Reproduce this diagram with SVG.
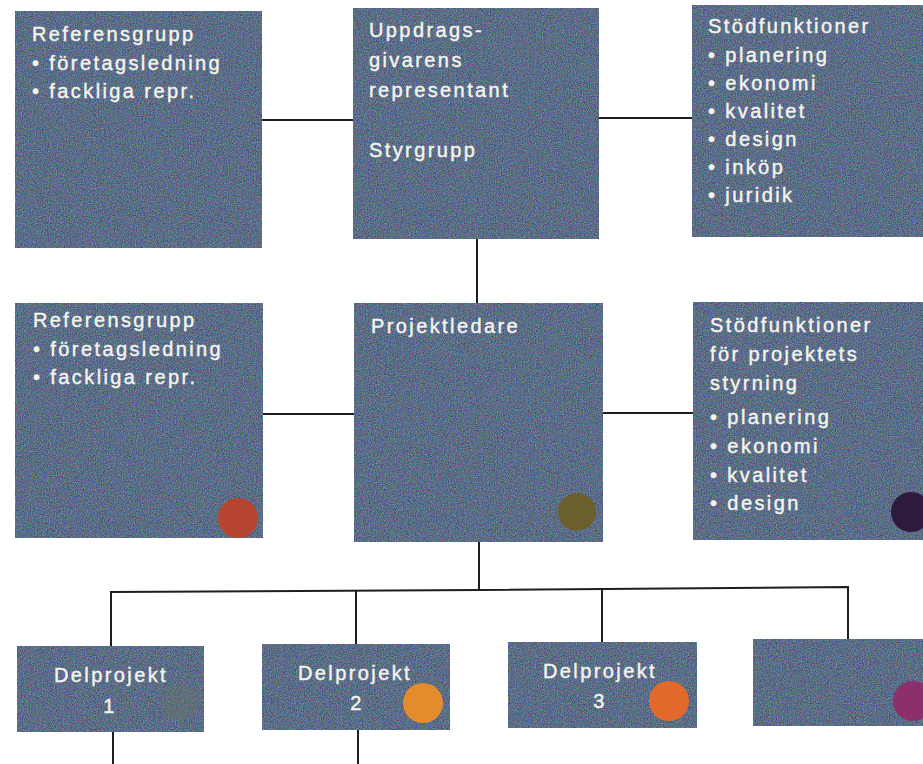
<svg xmlns="http://www.w3.org/2000/svg" width="923" height="764" viewBox="0 0 923 764">
  <defs>
    <style>
      .box { fill: #5b6884; filter: url(#grain); }
      .t { font-family: "Liberation Sans", Arial, sans-serif; font-size: 20px; fill: #f4f4ee; stroke: #f4f4ee; stroke-width: 0.4; letter-spacing: 2.4px; }
      .c { text-anchor: middle; }
      .wire { stroke: #1e1e1e; stroke-width: 2; fill: none; }
    </style>
    <!-- speckled print texture for the boxes -->
    <filter id="grain" x="0" y="0" width="100%" height="100%" color-interpolation-filters="sRGB">
      <feTurbulence type="fractalNoise" baseFrequency="0.85" numOctaves="2" seed="7" result="noise"/>
      <feColorMatrix in="noise" type="matrix" result="tint"
        values="1.6 0 0 0 -0.44
                0 1.6 0 0 -0.34
                0 0 1.6 0 -0.25
                0 0 0 0 0.4"/>
      <feComposite in="tint" in2="SourceGraphic" operator="in" result="speck"/>
      <feMerge>
        <feMergeNode in="SourceGraphic"/>
        <feMergeNode in="speck"/>
      </feMerge>
    </filter>
  </defs>
  <rect width="923" height="764" fill="#ffffff"/>

  <!-- connectors -->
  <g id="connectors" class="wire">
    <line x1="262" y1="120" x2="353" y2="120"/>
    <line x1="599" y1="118" x2="692" y2="118"/>
    <line x1="477" y1="239" x2="477" y2="303"/>
    <line x1="263" y1="414" x2="354" y2="414"/>
    <line x1="603" y1="413" x2="693" y2="413"/>
    <line x1="479" y1="542" x2="479" y2="590"/>
    <polyline points="111,646 111,592 479,590 848,587 848,639"/>
    <line x1="356" y1="591" x2="356" y2="644"/>
    <line x1="602" y1="589" x2="602" y2="642"/>
    <line x1="113" y1="732" x2="113" y2="764"/>
    <line x1="358" y1="730" x2="358" y2="764"/>
  </g>

  <!-- top row -->
  <g id="ref-top">
    <rect class="box" x="15" y="11" width="247" height="237"/>
    <text class="t" x="32" y="41">Referensgrupp</text>
    <text class="t" x="32" y="70">• företagsledning</text>
    <text class="t" x="32" y="98">• fackliga repr.</text>
  </g>
  <g id="styrgrupp">
    <rect class="box" x="353" y="8" width="246" height="231"/>
    <text class="t" x="369" y="37">Uppdrags-</text>
    <text class="t" x="369" y="67">givarens</text>
    <text class="t" x="369" y="97">representant</text>
    <text class="t" x="369" y="157">Styrgrupp</text>
  </g>
  <g id="stod-top">
    <rect class="box" x="692" y="5" width="240" height="232"/>
    <text class="t" x="708" y="33">Stödfunktioner</text>
    <text class="t" x="708" y="62">• planering</text>
    <text class="t" x="708" y="90">• ekonomi</text>
    <text class="t" x="708" y="118">• kvalitet</text>
    <text class="t" x="708" y="146">• design</text>
    <text class="t" x="708" y="174">• inköp</text>
    <text class="t" x="708" y="202">• juridik</text>
  </g>

  <!-- middle row -->
  <g id="ref-mid">
    <rect class="box" x="15" y="303" width="248" height="235"/>
    <text class="t" x="33" y="327">Referensgrupp</text>
    <text class="t" x="33" y="356">• företagsledning</text>
    <text class="t" x="33" y="384">• fackliga repr.</text>
    <circle cx="238" cy="518" r="20" fill="#b5452f"/>
  </g>
  <g id="projektledare">
    <rect class="box" x="354" y="303" width="249" height="239"/>
    <text class="t" x="371" y="333">Projektledare</text>
    <circle cx="577" cy="512" r="19" fill="#6b602c"/>
  </g>
  <g id="stod-mid">
    <rect class="box" x="693" y="302" width="240" height="238"/>
    <text class="t" x="710" y="332">Stödfunktioner</text>
    <text class="t" x="710" y="361">för projektets</text>
    <text class="t" x="710" y="390">styrning</text>
    <text class="t" x="710" y="424">• planering</text>
    <text class="t" x="710" y="453">• ekonomi</text>
    <text class="t" x="710" y="482">• kvalitet</text>
    <text class="t" x="710" y="510">• design</text>
    <circle cx="911" cy="512" r="20" fill="#2d1a3c"/>
  </g>

  <!-- sub-projects -->
  <g id="delprojekt-1">
    <rect class="box" x="17" y="646" width="187" height="86"/>
    <text class="t c" x="111" y="682">Delprojekt</text>
    <text class="t c" x="110" y="713">1</text>
    <circle cx="180" cy="702" r="19" fill="#6b7262" opacity="0.35"/>
  </g>
  <g id="delprojekt-2">
    <rect class="box" x="262" y="644" width="188" height="86"/>
    <text class="t c" x="355" y="680">Delprojekt</text>
    <text class="t c" x="357" y="710">2</text>
    <circle cx="423" cy="703" r="20" fill="#e38c2c"/>
  </g>
  <g id="delprojekt-3">
    <rect class="box" x="508" y="642" width="189" height="86"/>
    <text class="t c" x="600" y="678">Delprojekt</text>
    <text class="t c" x="600" y="708">3</text>
    <circle cx="669" cy="701" r="20" fill="#e3682c"/>
  </g>
  <g id="delprojekt-4">
    <rect class="box" x="753" y="639" width="180" height="87"/>
    <circle cx="913" cy="701" r="20" fill="#8c306c"/>
  </g>
</svg>
